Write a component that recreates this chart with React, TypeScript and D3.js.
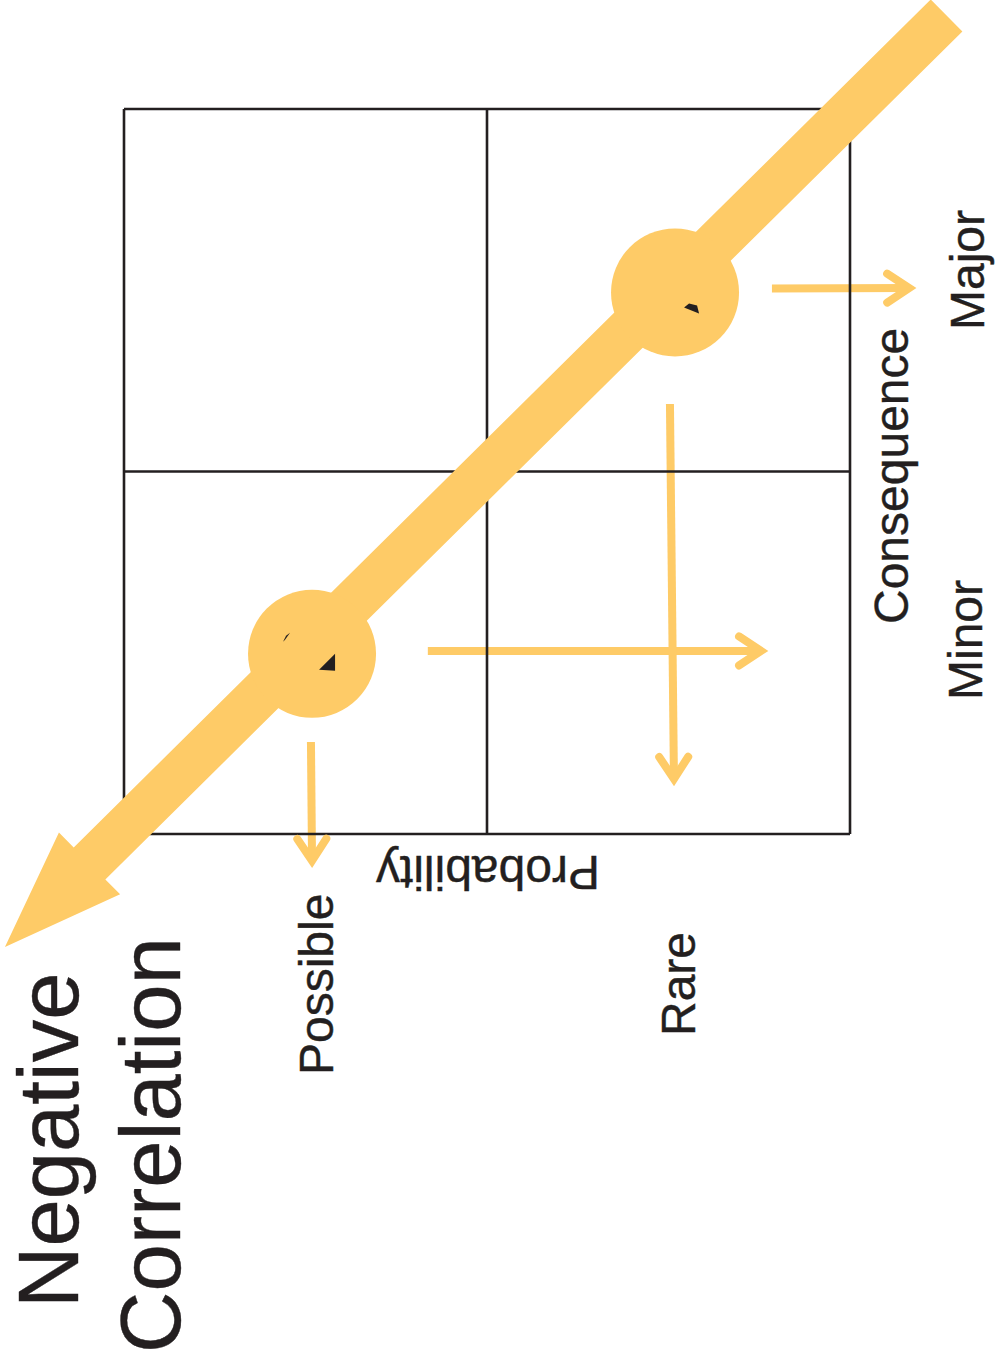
import React from "react";
import * as d3 from "d3";

// Grid (2x2 risk matrix) in grid units
const gridCols = [0, 1, 2];
const gridRows = [0, 1, 2];
const probabilityLabels = ["Possible", "Rare"];
const consequenceLabels = ["Minor", "Major"];
const titleLines = ["Negative", "Correlation"];

// Risk points (grid units)
const riskX = [0.518, 1.518];
const riskY = [1.503, 0.506];

// Thin arrows (grid units): start -> vertex
const arrowX0 = [0.837, 1.504, 0.515, 1.785];
const arrowY0 = [1.495, 0.814, 1.746, 0.495];
const arrowX1 = [1.755, 1.515, 0.518, 2.163];
const arrowY1 = [1.495, 1.848, 2.074, 0.494];

// Big correlation arrow (grid units): tail end -> tip
const bigTail = [2.266, -0.258];
const bigTip = [-0.328, 2.312];

const YELLOW = "#FECB67";
const INK = "#231f20";
const FONT = "'Liberation Sans', Arial, Helvetica, sans-serif";

export default function App() {
  const x = d3.scaleLinear().domain([0, 2]).range([124, 850]);
  const y = d3.scaleLinear().domain([0, 2]).range([109, 834]);

  // Big arrow polygon
  const tx = x(bigTail[0]), ty = y(bigTail[1]);
  const px = x(bigTip[0]), py = y(bigTip[1]);
  const L = Math.hypot(tx - px, ty - py);
  const ux = (tx - px) / L, uy = (ty - py) / L; // from tip toward tail
  const vx = -uy, vy = ux;
  const half = 22.5, headHalf = 43.5, headLen = 119;
  const pt = (u: number, v: number) => [px + ux * u + vx * v, py + uy * u + vy * v];
  const bigPoly = [
    pt(0, 0),
    pt(headLen, headHalf),
    pt(headLen, half),
    pt(L, half),
    pt(L, -half),
    pt(headLen, -half),
    pt(headLen, -headHalf),
  ];
  const bigPath = d3.line()(bigPoly as [number, number][]) + "Z";

  const arrows = arrowX0.map((_, i) => {
    const x0 = x(arrowX0[i]), y0 = y(arrowY0[i]);
    const x1 = x(arrowX1[i]), y1 = y(arrowY1[i]);
    const l = Math.hypot(x1 - x0, y1 - y0);
    const dx = (x1 - x0) / l, dy = (y1 - y0) / l;
    const nx = -dy, ny = dx;
    const back = 22, spread = 14.5;
    const b1 = [x1 - dx * back + nx * spread, y1 - dy * back + ny * spread];
    const b2 = [x1 - dx * back - nx * spread, y1 - dy * back - ny * spread];
    return { x0, y0, x1, y1, chevron: d3.line()([b1, [x1, y1], b2] as [number, number][]) };
  });

  // small dark fragments peeking through the circles (offsets from circle centres)
  const marks = [
    [[7, 16], [23, 0], [23, 17]],
    [[-29, -12], [-26, -18], [-22, -21], [-27, -14]],
    [[9, 15], [14, 11], [22, 13], [24, 21]],
  ];
  const markOwner = [0, 0, 1];

  return (
    <svg width={996} height={1363} style={{ position: "absolute", left: 0, top: 0, background: "#fff" }}>
      <rect width={996} height={1363} fill="#fff" />
      {/* thin arrow shafts */}
      {arrows.map((a, i) => (
        <line key={"s" + i} x1={a.x0} y1={a.y0} x2={a.x1} y2={a.y1} stroke={YELLOW} strokeWidth={8} />
      ))}
      {/* grid */}
      <g stroke={INK} strokeWidth={2.6} fill="none">
        {gridCols.map((c) => (
          <line key={"c" + c} x1={x(c)} x2={x(c)} y1={y(0)} y2={y(2)} />
        ))}
        {gridRows.map((r) => (
          <line key={"r" + r} x1={x(0)} x2={x(2)} y1={y(r)} y2={y(r)} />
        ))}
      </g>
      {/* big arrow */}
      <path d={bigPath} fill={YELLOW} />
      {riskX.map((rx, i) => (
        <circle key={"p" + i} cx={x(rx)} cy={y(riskY[i])} r={64} fill={YELLOW} />
      ))}
      {marks.map((m, i) => {
        const cx = x(riskX[markOwner[i]]), cy = y(riskY[markOwner[i]]);
        return (
          <path
            key={"m" + i}
            d={d3.line()(m.map(([a, b]) => [cx + a, cy + b]) as [number, number][]) + "Z"}
            fill={INK}
          />
        );
      })}
      {/* chevrons */}
      {arrows.map((a, i) => (
        <path
          key={"h" + i}
          d={a.chevron || ""}
          fill="none"
          stroke={YELLOW}
          strokeWidth={8}
          strokeLinecap="round"
          strokeLinejoin="miter"
        />
      ))}
      {/* labels */}
      <g fill={INK} fontFamily={FONT} stroke={INK} strokeWidth={0.4}>
        <text transform="translate(78,1308) rotate(-90)" fontSize={85}>{titleLines[0]}</text>
        <text transform="translate(180,1353) rotate(-90)" fontSize={85}>{titleLines[1]}</text>
        <text transform="translate(333,1075) rotate(-90)" fontSize={48}>{probabilityLabels[0]}</text>
        <text transform="translate(695,1036) rotate(-90)" fontSize={48}>{probabilityLabels[1]}</text>
        <text transform="translate(600,856) rotate(180)" fontSize={48}>Probability</text>
        <text transform="translate(908,624) rotate(-90)" fontSize={48}>Consequence</text>
        <text transform="translate(982,700) rotate(-90)" fontSize={48}>{consequenceLabels[0]}</text>
        <text transform="translate(984,330) rotate(-90)" fontSize={48}>{consequenceLabels[1]}</text>
      </g>
    </svg>
  );
}
